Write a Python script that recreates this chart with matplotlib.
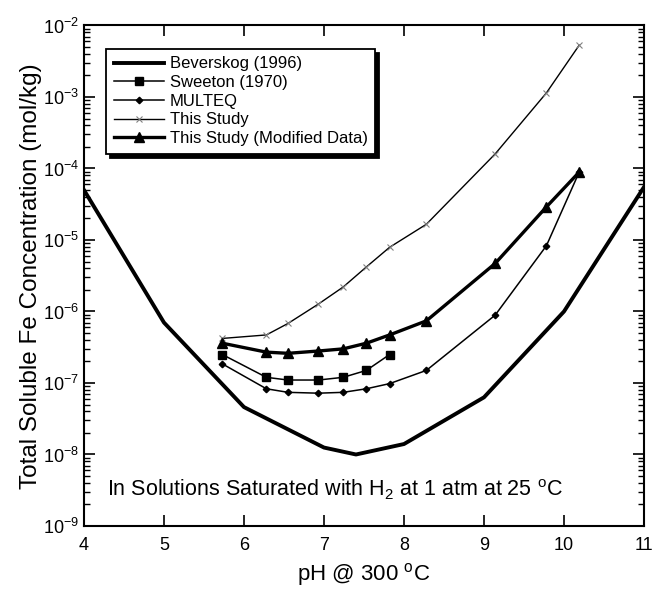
import matplotlib
matplotlib.use('Agg')
import matplotlib.pyplot as plt
import numpy as np

plt.rcParams['font.family'] = ['Liberation Sans', 'DejaVu Sans']
plt.rcParams['mathtext.fontset'] = 'custom'
plt.rcParams['mathtext.rm'] = 'Liberation Sans'
plt.rcParams['mathtext.it'] = 'Liberation Sans:italic'
plt.rcParams['mathtext.default'] = 'regular'

# Beverskog (1996)
bev_ph = [4.0, 5.0, 6.0, 7.0, 7.4, 8.0, 9.0, 10.0, 11.0]
bev_fe = [5.0e-5, 7.0e-7, 4.6e-8, 1.25e-8, 1.0e-8, 1.4e-8, 6.3e-8, 1.0e-6, 5.5e-5]

# Sweeton (1970)
swe_ph = [5.73, 6.28, 6.55, 6.93, 7.24, 7.53, 7.82]
swe_fe = [2.5e-7, 1.2e-7, 1.1e-7, 1.1e-7, 1.2e-7, 1.5e-7, 2.5e-7]

# MULTEQ
mul_ph = [5.73, 6.28, 6.55, 6.93, 7.24, 7.53, 7.82, 8.28, 9.14, 9.78, 10.19]
mul_fe = [1.85e-7, 8.3e-8, 7.4e-8, 7.2e-8, 7.4e-8, 8.3e-8, 9.8e-8, 1.5e-7, 8.9e-7, 8.3e-6, 8.9e-5]

# This Study
st_ph = [5.73, 6.28, 6.55, 6.93, 7.24, 7.53, 7.82, 8.28, 9.14, 9.78, 10.19]
st_fe = [4.2e-7, 4.7e-7, 6.8e-7, 1.27e-6, 2.2e-6, 4.2e-6, 7.9e-6, 1.66e-5, 1.6e-4, 1.14e-3, 5.3e-3]

# This Study (Modified Data)
mod_ph = [5.73, 6.28, 6.55, 6.93, 7.24, 7.53, 7.82, 8.28, 9.14, 9.78, 10.19]
mod_fe = [3.6e-7, 2.7e-7, 2.6e-7, 2.8e-7, 3.0e-7, 3.6e-7, 4.7e-7, 7.4e-7, 4.7e-6, 2.9e-5, 8.9e-5]

fig = plt.figure(figsize=(6.54, 5.90), dpi=100)
ax = fig.add_axes([0.1284, 0.1085, 0.8563, 0.8483])

ax.plot(bev_ph, bev_fe, color='black', lw=2.8, label='Beverskog (1996)')
ax.plot(swe_ph, swe_fe, color='black', lw=1.1, marker='s', ms=5.5, label='Sweeton (1970)')
ax.plot(mul_ph, mul_fe, color='black', lw=1.1, marker='D', ms=3.3, label='MULTEQ')
ax.plot(st_ph, st_fe, color='black', lw=1.0, marker='x', ms=5, mec='gray', mew=0.8,
        label='This Study')
ax.plot(mod_ph, mod_fe, color='black', lw=2.4, marker='^', ms=7, label='This Study (Modified Data)')

ax.set_yscale('log')
ax.set_xlim(4, 11)
ax.set_ylim(1e-9, 1e-2)
ax.set_xticks(range(4, 12))
ax.tick_params(which='both', direction='in', top=True, right=True, labelsize=13, width=1.2)
ax.tick_params(which='major', length=8)
ax.tick_params(which='minor', length=4, width=1.0)
ax.tick_params(axis='x', which='minor', bottom=False, top=False)
ax.tick_params(axis='x', pad=8)
for s in ax.spines.values():
    s.set_linewidth(1.5)

ax.set_xlabel('pH @ 300 $^{o}$C', fontsize=16, labelpad=5)
ax.set_ylabel('Total Soluble Fe Concentration (mol/kg)', fontsize=17.5, labelpad=1)

ax.text(4.29, 10**-8.5, 'In Solutions Saturated with H$_2$ at 1 atm at 25 $^{o}$C',
        fontsize=15.5, va='center')

leg = ax.legend(loc='upper left', bbox_to_anchor=(0.025, 0.97), fontsize=12, frameon=True,
                fancybox=False, edgecolor='black', handlelength=3.0, labelspacing=0.22,
                borderpad=0.45, handletextpad=0.35,
                shadow={'color': 'black', 'alpha': 1.0, 'ox': 3, 'oy': -3})
leg.get_frame().set_linewidth(1.3)

fig.savefig('out.png', dpi=100)
